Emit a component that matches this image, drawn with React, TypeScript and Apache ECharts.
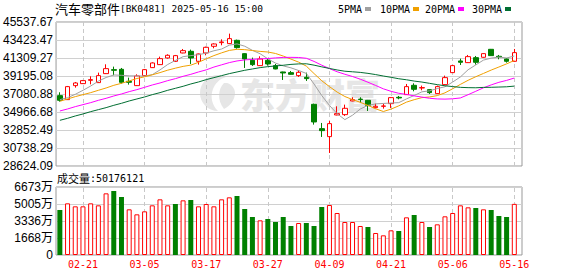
import React, { useEffect, useRef } from 'react';
import * as echarts from 'echarts';

const dates = [
  '02-18', '02-19', '02-20', '02-21', '02-24', '02-25', '02-26', '02-27', '02-28', '03-03',
  '03-04', '03-05', '03-06', '03-07', '03-10', '03-11', '03-12', '03-13', '03-14', '03-17',
  '03-18', '03-19', '03-20', '03-21', '03-24', '03-25', '03-26', '03-27', '03-28', '03-31',
  '04-01', '04-02', '04-03', '04-07', '04-08', '04-09', '04-10', '04-11', '04-14', '04-15',
  '04-16', '04-17', '04-18', '04-21', '04-22', '04-23', '04-24', '04-25', '04-28', '04-29',
  '04-30', '05-06', '05-07', '05-08', '05-09', '05-12', '05-13', '05-14', '05-15', '05-16',
];

// [open, close, low, high]
const candles: number[][] = [
  [36889, 36341, 36185, 37281], [36420, 37946, 36380, 38025], [38064, 38377, 37829, 38494],
  [38299, 38651, 38260, 38730], [38690, 38768, 38220, 39160], [38416, 39238, 38377, 39591],
  [39473, 40061, 39434, 40569], [39943, 39865, 39278, 40296], [39982, 38455, 38299, 40139],
  [38573, 38455, 38181, 39004], [38064, 39199, 38025, 39395], [39238, 39943, 39199, 40021],
  [40178, 40726, 40139, 40804], [40530, 41235, 40491, 41470], [41313, 41627, 41235, 41744],
  [40922, 41587, 40844, 41666], [41901, 42175, 41862, 42370], [42096, 41313, 40608, 42292],
  [40922, 41783, 40530, 41822], [41901, 42566, 41627, 42645], [42684, 42958, 42449, 43036],
  [43114, 43193, 42801, 43506], [42997, 43584, 42958, 44171], [43388, 42527, 42410, 43467],
  [41822, 41196, 40139, 41862], [41039, 40530, 40374, 41352], [40413, 41196, 40374, 41509],
  [41039, 40608, 40413, 41235], [40413, 40021, 39982, 40608], [39669, 39551, 38729, 39708],
  [39591, 39395, 39356, 39786], [39238, 39630, 39082, 39865], [39043, 38886, 38612, 39591],
  [35872, 33797, 33483, 35950], [33013, 32779, 32035, 33679], [32074, 33601, 30156, 33914],
  [34618, 34775, 34579, 35636], [34658, 35401, 34501, 35832], [36263, 36420, 36224, 36694],
  [36480, 36440, 36067, 36694], [36341, 35754, 35088, 36380], [35480, 35636, 35402, 35950],
  [35636, 35676, 35362, 35950], [35950, 36654, 35441, 36694], [36694, 36615, 36459, 36850],
  [37007, 37946, 36968, 38260], [38103, 37633, 37398, 38338], [37790, 37829, 37516, 38064],
  [37594, 37242, 37085, 37633], [37124, 37946, 37085, 38064], [38181, 39004, 38142, 39238],
  [39591, 40413, 39551, 40491], [40961, 40804, 40491, 41235], [40765, 41470, 40726, 41666],
  [41352, 40804, 40530, 41548], [41392, 41822, 41352, 41862], [42331, 41587, 41548, 42370],
  [41509, 41431, 41157, 41666], [41196, 40922, 40765, 41313], [40922, 41940, 40883, 42370],
];

const ma5 = [
  36420, 36654, 37046, 37516, 38017, 38596, 39019, 39317, 39277, 39215,
  39207, 39183, 39356, 39912, 40546, 41024, 41470, 41587, 41697, 41885,
  42159, 42363, 42817, 42966, 42692, 42206, 41807, 41211, 40710, 40381,
  40154, 39841, 39497, 38252, 36897, 35739, 34768, 34071, 34595, 35315,
  35746, 35918, 35973, 36020, 36067, 36505, 36905, 37335, 37453, 37719,
  37931, 38487, 39082, 39927, 40499, 41063, 41297, 41423, 41313, 41540,
];
const ma10 = [
  36224, 36498, 36772, 37007, 37242, 37516, 37790, 38103, 38338, 38616,
  38902, 39101, 39336, 39595, 39880, 40115, 40327, 40472, 40804, 41215,
  41591, 41916, 42202, 42331, 42288, 42183, 42085, 42014, 41838, 41536,
  41180, 40824, 40354, 39481, 38639, 37946, 37304, 36784, 36424, 36106,
  35742, 35343, 35022, 35308, 35691, 36126, 36412, 36654, 36737, 36893,
  37218, 37696, 38209, 38690, 39109, 39497, 39892, 40252, 40620, 41020,
];
const ma20 = [
  35088, 35323, 35597, 35832, 36067, 36341, 36576, 36850, 37085, 37359,
  37594, 37868, 38142, 38377, 38651, 38886, 39160, 39395, 39669, 39916,
  40246, 40509, 40769, 40963, 41084, 41149, 41206, 41243, 41321, 41376,
  41386, 41370, 41278, 40906, 40464, 40064, 39694, 39399, 39131, 38821,
  38461, 38083, 37688, 37394, 37165, 37036, 36858, 36719, 36580, 36500,
  36480, 36519, 36615, 36999, 37400, 37811, 38152, 38453, 38678, 38956,
];
const ma30 = [
  33992, 34227, 34501, 34736, 35010, 35245, 35480, 35754, 35989, 36263,
  36498, 36733, 37007, 37242, 37516, 37751, 37986, 38260, 38494, 38768,
  39004, 39238, 39473, 39669, 39865, 40021, 40178, 40296, 40374, 40456,
  40558, 40614, 40631, 40469, 40269, 40081, 39905, 39756, 39689, 39619,
  39505, 39361, 39193, 39040, 38873, 38752, 38600, 38484, 38333, 38179,
  38047, 37954, 37862, 37826, 37813, 37856, 37869, 37897, 37927, 38006,
];

// volume in 万
const volume = [
  4416, 5070, 4776, 4776, 5070, 4874, 6052, 6280, 5692, 4481,
  3991, 4285, 4874, 5463, 4874, 5005, 5365, 5397, 4776, 5005,
  4776, 5463, 5659, 5790, 4514, 3729, 3402, 3533, 3238, 3729,
  2846, 3140, 3140, 2846, 4710, 4907, 4122, 3238, 3238, 2846,
  2748, 2159, 1930, 2421, 2355, 3696, 3925, 3238, 2748, 3009,
  3795, 4122, 4874, 4678, 4612, 4481, 4416, 3827, 3729, 5018,
];
// 1 = red (up) bar, 0 = green (down) bar
const volumeUp = [
  0, 1, 1, 1, 1, 1, 1, 0, 0, 1,
  1, 1, 1, 1, 1, 0, 1, 0, 1, 1,
  1, 1, 1, 0, 0, 0, 1, 0, 0, 0,
  0, 1, 0, 0, 0, 1, 1, 1, 1, 1,
  0, 1, 1, 1, 0, 1, 0, 1, 0, 1,
  1, 1, 1, 1, 0, 1, 0, 0, 0, 1,
];

const priceTicks = ['28624.09', '30738.29', '32852.49', '34966.68', '37080.88', '39195.08', '41309.27', '43423.47', '45537.67'];
const priceMin = 28624.09;
const priceMax = 45537.67;
const volTicks = ['0', '1668万', '3336万', '5005万', '6673万'];
const volMax = 6673;
const labelIdx = [3, 11, 19, 27, 35, 43, 51, 59];

const maNames = ['5PMA', '10PMA', '20PMA', '30PMA'];
const maColors = ['#a0a0a0', '#f0a000', '#ff00ff', '#006e32'];

const titleName = '汽车零部件';
const titleRest = '[BK0481] 2025-05-16 15:00';
const volumeText = '50176121';

const RED = '#ff0000';
const GREEN = '#008000';
const MONO = '"DejaVu Sans Mono", monospace';
const CJK = '"Noto Sans CJK SC", sans-serif';

let logoRegistered = false;

export default function App() {
  const ref = useRef<HTMLDivElement>(null);

  useEffect(() => {
    if (!ref.current) return;
    if (!logoRegistered) {
      echarts.graphic.registerShape(
        'logo',
        echarts.graphic.extendPath(
          'M18 0 C8 0 0 8 0 18 C0 28 8 36 18 36 C12 30 10 22 13 14 C15 9 19 4 26 2 C24 0.7 21 0 18 0 Z M24 8 C18 14 17 25 24 34 C30 31 35 25 35 18 C35 13 31 9 27 8 Z',
          {}
        )
      );
      logoRegistered = true;
    }
    const chart = echarts.init(ref.current, null, { renderer: 'svg' });
    const maList = [ma5, ma10, ma20, ma30];

    const legendX = [338, 380, 425, 472];
    const legendGraphics: any[] = [];
    maNames.forEach((n, k) => {
      legendGraphics.push({
        type: 'text', x: legendX[k], y: 9,
        style: { text: n, fill: '#000', font: `10px ${MONO}`, textVerticalAlign: 'middle' },
      });
      legendGraphics.push({
        type: 'rect', shape: { x: legendX[k] + n.length * 6 + 3, y: 7, width: 6, height: 4 },
        style: { fill: maColors[k] },
      });
    });

    const option: any = {
      animation: false,
      backgroundColor: '#ffffff',
      grid: [
        { left: 56, top: 22, width: 466, height: 144, show: true, borderColor: '#999', borderWidth: 1 },
        { left: 56, top: 187, width: 466, height: 68, show: true, borderColor: '#999', borderWidth: 1 },
      ],
      xAxis: [
        { type: 'value', gridIndex: 0, min: -0.5, max: 60, show: false },
        {
          type: 'value', gridIndex: 1, min: -0.5, max: 60,
          axisLine: { show: false }, axisTick: { show: false }, splitLine: { show: false },
          axisLabel: {
            customValues: labelIdx,
            formatter: (v: number) => dates[Math.round(v)] ?? '',
            color: RED, fontFamily: MONO, fontSize: 10, margin: 4,
          },
        },
      ],
      yAxis: [
        { type: 'value', gridIndex: 0, min: priceMin, max: priceMax, show: false },
        {
          type: 'value', gridIndex: 0, min: 0, max: 8, interval: 1, position: 'left',
          axisLine: { show: false }, axisTick: { show: false },
          splitLine: { show: true, lineStyle: { color: '#d0d0d0', width: 1 } },
          axisLabel: {
            formatter: (v: number) => priceTicks[Math.round(v)] ?? '',
            color: '#000', fontFamily: '"Liberation Sans", Arial, sans-serif', fontSize: 12, margin: 3,
          },
        },
        {
          type: 'value', gridIndex: 1, min: 0, max: volMax, interval: volMax / 4, position: 'left',
          axisLine: { show: false }, axisTick: { show: false },
          splitLine: { show: true, lineStyle: { color: '#d0d0d0', width: 1 } },
          axisLabel: {
            formatter: (v: number) => volTicks[Math.round(v / (volMax / 4))] ?? '',
            color: '#000', fontFamily: '"Liberation Sans", "Noto Sans CJK SC", sans-serif', fontSize: 12, margin: 3,
          },
        },
      ],
      graphic: [
        {
          type: 'group', x: 200, y: 75, z: -10, silent: true,
          children: [
            { type: 'logo', x: 0, y: 0, scaleX: 1, scaleY: 1, style: { fill: '#e6e6e6' } },
            {
              type: 'text', x: 40, y: 18,
              style: { text: '东方财富', fill: '#e6e6e6', font: `900 35px ${CJK}`, textVerticalAlign: 'middle' },
            },
          ],
        },
        {
          type: 'text', x: 55, y: 8,
          style: {
            text: `{a|${titleName}}{b|${titleRest}}`,
            textVerticalAlign: 'middle',
            rich: {
              a: { fontFamily: CJK, fontSize: 13, fill: '#000', color: '#000' },
              b: { fontFamily: MONO, fontSize: 9.5, fill: '#000', color: '#000' },
            },
          },
        },
        {
          type: 'text', x: 57, y: 178,
          style: {
            text: `{a|成交量}{b|:${volumeText}}`,
            textVerticalAlign: 'middle',
            rich: {
              a: { fontFamily: CJK, fontSize: 11, fill: '#000', color: '#000' },
              b: { fontFamily: MONO, fontSize: 10, fill: '#000', color: '#000' },
            },
          },
        },
        ...legendGraphics,
      ],
      series: [
        {
          type: 'candlestick', xAxisIndex: 0, yAxisIndex: 0,
          data: candles.map((c, i) => [i, c[0], c[1], c[2], c[3]]),
          encode: { x: 0, y: [1, 2, 3, 4] },
          barWidth: 5,
          itemStyle: { color: '#ffffff', color0: GREEN, borderColor: RED, borderColor0: GREEN, borderWidth: 1 },
          markLine: {
            silent: true, symbol: ['none', 'none'], z: 1,
            label: { show: false },
            lineStyle: { type: [4, 3], color: '#c8c8c8', width: 1 },
            data: labelIdx.map((i) => ({ xAxis: i })),
          },
          z: 3,
        },
        ...maList.map((m, k) => ({
          type: 'line', name: maNames[k], xAxisIndex: 0, yAxisIndex: 0,
          data: m.map((v, i) => [i, v]),
          showSymbol: false, symbol: 'none',
          lineStyle: { width: 1, color: maColors[k] },
          z: 4,
        })),
        {
          type: 'bar', xAxisIndex: 1, yAxisIndex: 2, barWidth: 5,
          data: volume.map((v, i) => ({
            value: [i, v],
            itemStyle: volumeUp[i]
              ? { color: '#ffffff', borderColor: RED, borderWidth: 1 }
              : { color: GREEN, borderColor: GREEN, borderWidth: 0 },
          })),
          markLine: {
            silent: true, symbol: ['none', 'none'], z: 1,
            label: { show: false },
            lineStyle: { type: [4, 3], color: '#c8c8c8', width: 1 },
            data: labelIdx.map((i) => ({ xAxis: i })),
          },
          z: 3,
        },
      ],
    };
    chart.setOption(option);
    return () => chart.dispose();
  }, []);

  return (
    <div
      ref={ref}
      style={{ position: 'fixed', left: 0, top: 0, width: 578, height: 276, background: '#fff' }}
    />
  );
}
